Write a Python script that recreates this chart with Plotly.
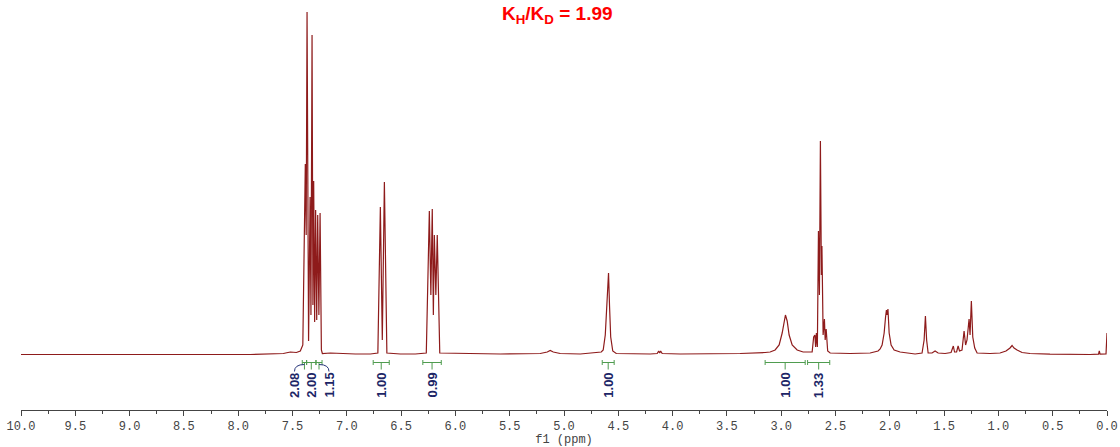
import plotly.graph_objects as go

# ---------------- data ----------------
shift_ppm = [10.0, 7.888, 7.584, 7.520, 7.464, 7.428, 7.405, 7.382, 7.374, 7.366, 7.352, 7.338, 7.330,
             7.320, 7.312, 7.305, 7.296, 7.287, 7.277, 7.268, 7.257, 7.246, 7.234, 7.225, 7.151, 7.059,
             6.921, 6.783, 6.714, 6.691, 6.673, 6.654, 6.631, 6.507, 6.369, 6.268, 6.240, 6.226, 6.213,
             6.203, 6.194, 6.180, 6.167, 6.144, 5.587, 5.219, 5.154, 5.127, 5.099, 5.035, 4.850, 4.657,
             4.639, 4.620, 4.607, 4.597, 4.590, 4.581, 4.570, 4.551, 4.519, 4.206, 4.142, 4.128, 4.119,
             4.110, 4.096, 3.930, 3.746, 3.378, 3.148, 3.102, 3.056, 3.019, 2.991, 2.973, 2.961, 2.945,
             2.927, 2.899, 2.853, 2.798, 2.734, 2.715, 2.701, 2.690, 2.683, 2.676, 2.667, 2.657, 2.648,
             2.639, 2.630, 2.625, 2.614, 2.602, 2.595, 2.586, 2.572, 2.549, 2.365, 2.181, 2.108, 2.089,
             2.071, 2.052, 2.039, 2.031, 2.025, 2.017, 2.006, 1.988, 1.960, 1.905, 1.767, 1.703, 1.684,
             1.672, 1.661, 1.647, 1.611, 1.583, 1.555, 1.491, 1.436, 1.415, 1.404, 1.385, 1.371, 1.358,
             1.335, 1.316, 1.302, 1.289, 1.270, 1.261, 1.249, 1.241, 1.236, 1.218, 1.196, 1.077, 0.985,
             0.930, 0.893, 0.874, 0.856, 0.828, 0.782, 0.709, 0.525, 0.156, 0.078, 0.071, 0.064, 0.009,
             0.000]
intensity = [0.5, 0.5, 1.5, 3, 2.5, 4, 10, 191, 120, 343, 14, 158, 40,
             320, 50, 174, 33, 145, 35, 140, 40, 142, 5, 1.5, 2, 1.5,
             1, 1, 2, 148, 15, 173, 2, 1, 1, 2, 144, 60, 146,
             40, 120, 60, 120, 2, 1, 1.5, 3, 4.5, 3, 1.5, 1, 3,
             5, 20, 50, 72, 82, 50, 18, 4, 1.5, 1, 1.5, 4, 2,
             4, 1.5, 1, 1, 1.5, 2.5, 3, 5, 10, 22, 35, 40, 34,
             20, 10, 5, 3, 3, 3, 18, 20, 8, 22, 8, 124, 60,
             214, 80, 109, 20, 36, 15, 26, 4, 2, 1.5, 2, 4, 6,
             10, 22, 38, 45, 40, 46, 22, 10, 5, 3, 1, 2, 15,
             39, 15, 2, 2, 4, 2, 1.5, 2.5, 9, 3, 3, 9, 4,
             5, 24, 10, 15, 36, 20, 54, 25, 18, 7, 2, 1.5, 2,
             4, 7, 9.5, 7, 5, 2.5, 1.5, 0.8, 0.5, 0.8, 4, 0.8, 1,
             22]

# integrals: start / end (ppm) and value
int_start = [7.410, 7.370, 7.284, 6.757, 6.300, 4.648, 3.148, 2.757]
int_end = [7.370, 7.284, 7.228, 6.609, 6.130, 4.538, 2.779, 2.553]
int_value = [2.08, 2.00, 1.15, 1.00, 0.99, 1.00, 1.00, 1.33]

x_range = [10.0, 0.0]
x_dtick = 0.5
ratio_text = "K<sub>H</sub>/K<sub>D</sub> = 1.99"

# ---------------- layout / style ----------------
W, H = 1120, 447
ML, MR, MT, MB = 21, 13, 0, 37
plot_w = W - ML - MR
plot_h = H - MT - MB
px_per_ppm = plot_w / abs(x_range[0] - x_range[1])
BASE_PX = 355                      # baseline pixel row inside plot area
y_range = [-(plot_h - BASE_PX), BASE_PX]   # 1 unit == 1 px

LINE_COLOR = "#8e1b1b"
INT_GREEN = "#4f9c4f"
INT_BLUE = "#27357a"
LABEL_NUDGE_PX = [-10, 0, 10, 0, 0, 0, 0, 0]

fig = go.Figure()
fig.add_trace(go.Scatter(x=shift_ppm, y=intensity, mode="lines",
                         line=dict(color=LINE_COLOR, width=1.2),
                         hoverinfo="skip", showlegend=False))

shapes = []
annotations = []
bar_y = -7.5
for i, (a, b, v) in enumerate(zip(int_start, int_end, int_value)):
    c = (a + b) / 2
    green = dict(color=INT_GREEN, width=1)
    shapes.append(dict(type="line", xref="x", yref="y", x0=a, x1=b, y0=bar_y, y1=bar_y, line=green))
    for e in (a, b):
        shapes.append(dict(type="line", xref="x", yref="y", x0=e, x1=e, y0=bar_y + 2.5, y1=bar_y - 2.5, line=green))
    shapes.append(dict(type="line", xref="x", yref="y", x0=c, x1=c, y0=bar_y, y1=bar_y - 7, line=green))
    lx = c - LABEL_NUDGE_PX[i] / px_per_ppm
    if LABEL_NUDGE_PX[i] != 0:
        path = f"M {c},{bar_y - 2} Q {lx},{bar_y - 2} {lx},{bar_y - 9}"
        shapes.append(dict(type="path", xref="x", yref="y", path=path,
                           line=dict(color=INT_BLUE, width=1)))
    annotations.append(dict(x=lx, y=-30.5, xref="x", yref="y", text=f"<b>{v:.2f}</b>",
                            textangle=-90, showarrow=False, xanchor="center", yanchor="middle",
                            font=dict(family="Liberation Sans, Arial", size=13, color="#1c2566")))

annotations.append(dict(x=(557 - ML) / plot_w, y=1 - 15 / plot_h, xref="paper", yref="paper",
                        text=f"<b>{ratio_text}</b>", showarrow=False,
                        xanchor="center", yanchor="middle",
                        font=dict(family="Liberation Sans, Arial", size=19, color="#ff0000")))

axis_font = dict(family="Liberation Mono, DejaVu Sans Mono, monospace", size=12, color="#444444")
fig.update_layout(
    width=W, height=H,
    margin=dict(l=ML, r=MR, t=MT, b=MB, pad=0),
    paper_bgcolor="white", plot_bgcolor="white",
    showlegend=False,
    shapes=shapes, annotations=annotations,
    xaxis=dict(range=x_range, tickmode="linear", tick0=0, dtick=x_dtick, tickformat=".1f",
               ticks="outside", ticklen=5, tickcolor="#444444", tickwidth=1,
               showline=True, linecolor="#444444", linewidth=1,
               showgrid=False, zeroline=False,
               minor=dict(ticks="outside", ticklen=3, dtick=x_dtick / 2, tickcolor="#444444", showgrid=False),
               tickfont=axis_font,
               title=dict(text="f1 (ppm)", font=axis_font, standoff=0)),
    yaxis=dict(range=y_range, visible=False, showgrid=False, zeroline=False, fixedrange=True),
)

fig.write_html("out.html", config={"displayModeBar": False},
               post_script="document.body.style.margin='0';document.body.style.overflow='hidden';")
